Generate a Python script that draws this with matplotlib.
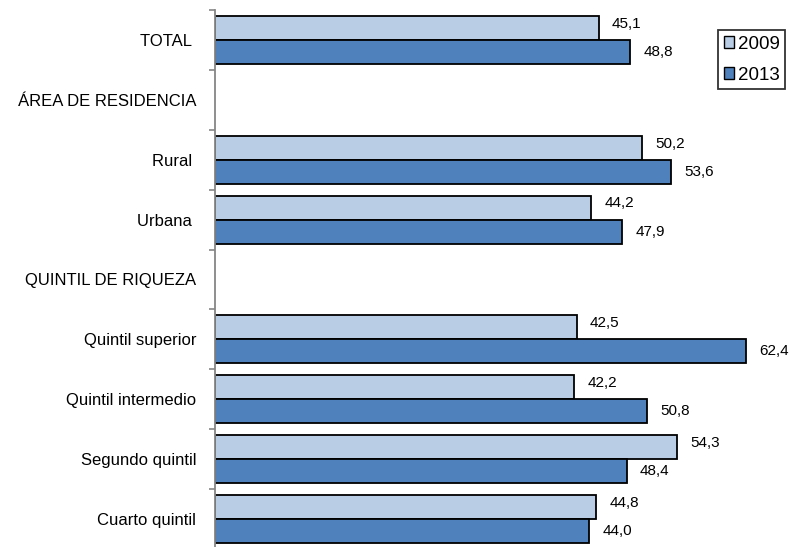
import matplotlib
matplotlib.use('Agg')
import matplotlib.pyplot as plt
from matplotlib import font_manager
from matplotlib.patches import Patch

categories = ['TOTAL ', 'ÁREA DE RESIDENCIA', 'Rural ', 'Urbana ', 'QUINTIL DE RIQUEZA',
              'Quintil superior', 'Quintil intermedio', 'Segundo quintil', 'Cuarto quintil']
values_2009 = [45.1, None, 50.2, 44.2, None, 42.5, 42.2, 54.3, 44.8]
values_2013 = [48.8, None, 53.6, 47.9, None, 62.4, 50.8, 48.4, 44.0]
series_names = ['2009', '2013']
colors = ['#B9CDE5', '#4F81BD']

# narrow font if available, otherwise plain Liberation Sans a bit smaller
try:
    font_manager.findfont('Liberation Sans Narrow', fallback_to_default=False)
    fam = ['Liberation Sans Narrow', 'DejaVu Sans']
    fs_cat, fs_val, fs_leg = 14, 12.5, 14
except Exception:
    fam = ['Liberation Sans', 'DejaVu Sans']
    fs_cat, fs_val, fs_leg = 12, 11, 13.5
plt.rcParams['font.family'] = fam

fig = plt.figure(figsize=(7.9, 5.47), dpi=100)
ax = fig.add_axes([215 / 790, -2 / 547, 575 / 790, 539 / 547])

h = 0.4
for i, (a, b) in enumerate(zip(values_2009, values_2013)):
    if a is None:
        continue
    ax.barh(i - h / 2, a, height=h, color=colors[0], edgecolor='black', linewidth=1.3)
    ax.barh(i + h / 2, b, height=h, color=colors[1], edgecolor='black', linewidth=1.3)
    ax.annotate(f'{a:.1f}'.replace('.', ','), (a, i - h / 2), xytext=(9.5, 3),
                textcoords='offset points', va='center', ha='left', fontsize=fs_val)
    ax.annotate(f'{b:.1f}'.replace('.', ','), (b, i + h / 2), xytext=(9.5, 0),
                textcoords='offset points', va='center', ha='left', fontsize=fs_val)

ax.set_xlim(0, 67.6)
ax.set_ylim(len(categories) - 0.5, -0.5)
ax.set_yticks(range(len(categories)))
ax.set_yticklabels(categories, fontsize=fs_cat)
ax.set_yticks([k - 0.5 for k in range(len(categories) + 1)], minor=True)
ax.tick_params(axis='y', which='major', length=0, pad=13.5)
ax.tick_params(axis='y', which='minor', length=4.5, width=1.2, color='#868686')
ax.set_xticks([])
for s in ['top', 'right', 'bottom']:
    ax.spines[s].set_visible(False)
ax.spines['left'].set_color('#868686')
ax.spines['left'].set_linewidth(1.3)

handles = [Patch(facecolor=c, edgecolor='black', linewidth=1) for c in colors]
leg = ax.legend(handles, series_names, loc='upper left', bbox_to_anchor=(718 / 790, 1 - 30 / 547),
                bbox_transform=fig.transFigure, fontsize=fs_leg, frameon=True, fancybox=False,
                handlelength=0.55, handleheight=0.55, handletextpad=0.2, borderpad=0.3,
                labelspacing=0.75, borderaxespad=0)
leg.get_frame().set_edgecolor('black')
leg.get_frame().set_linewidth(1.3)

fig.savefig('out.png', dpi=100)
